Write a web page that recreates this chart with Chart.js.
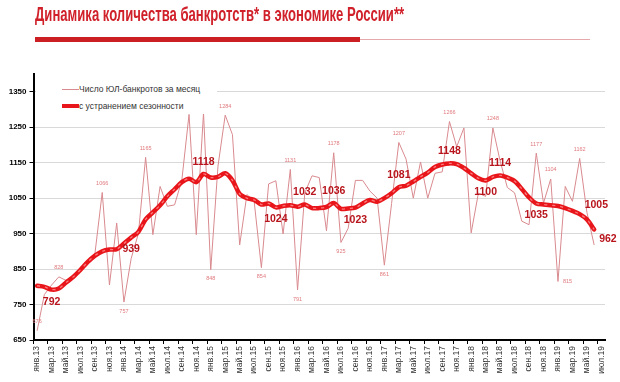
<!DOCTYPE html>
<html>
<head>
<meta charset="utf-8">
<script src="https://cdn.jsdelivr.net/npm/chart.js@4.4.1/dist/chart.umd.min.js"></script>
<style>
	html, body { margin: 0; padding: 0; background: #fff; }
	#wrap { position: relative; width: 620px; height: 382px; overflow: hidden; }
	#bankruptChart { position: absolute; left: 0; top: 0; }
	#title {
		position: absolute; left: 35px; top: 3px; white-space: nowrap;
		font: bold 20px 'Liberation Sans', Arial, sans-serif; color: #d0202a;
		transform: scaleX(0.655); transform-origin: left top;
	}
	#bar { position: absolute; left: 35px; top: 37px; width: 325px; height: 5px; background: #cc1f24; }
	#rule { position: absolute; left: 360px; top: 39px; width: 230px; height: 1px; background: #e6a9ab; }
	#legend {
		position: absolute; left: 36px; top: 78px; width: 181px; height: 36px; background: #fff;
		font: 8.5px 'Liberation Sans', Arial, sans-serif; color: #333;
	}
	.row { position: absolute; left: 26px; height: 12px; line-height: 12px; white-space: nowrap; }
	.row i { position: absolute; left: 0; width: 17px; }
	.row span { position: absolute; left: 17px; }
	#r1 { top: 5px; }
	#r1 i { top: 6px; height: 1px; background: #d98a8f; }
	#r2 { top: 22px; }
	#r2 i { top: 4px; height: 4px; background: #e8161b; }
</style>
</head>
<body>
<div id="wrap">
	<canvas id="bankruptChart" width="620" height="382"></canvas>
	<div id="title">Динамика количества банкротств* в экономике России**</div>
	<div id="bar"></div>
	<div id="rule"></div>
	<div id="legend">
		<div class="row" id="r1"><i></i><span>Число ЮЛ-банкротов за месяц</span></div>
		<div class="row" id="r2"><i></i><span>с устранением сезонности</span></div>
	</div>
</div>
<script>
const months = [
	'янв.13', 'фев.13', 'мар.13', 'апр.13', 'май.13', 'июн.13', 'июл.13', 'авг.13', 'сен.13', 'окт.13', 'ноя.13', 'дек.13',
	'янв.14', 'фев.14', 'мар.14', 'апр.14', 'май.14', 'июн.14', 'июл.14', 'авг.14', 'сен.14', 'окт.14', 'ноя.14', 'дек.14',
	'янв.15', 'фев.15', 'мар.15', 'апр.15', 'май.15', 'июн.15', 'июл.15', 'авг.15', 'сен.15', 'окт.15', 'ноя.15', 'дек.15',
	'янв.16', 'фев.16', 'мар.16', 'апр.16', 'май.16', 'июн.16', 'июл.16', 'авг.16', 'сен.16', 'окт.16', 'ноя.16', 'дек.16',
	'янв.17', 'фев.17', 'мар.17', 'апр.17', 'май.17', 'июн.17', 'июл.17', 'авг.17', 'сен.17', 'окт.17', 'ноя.17', 'дек.17',
	'янв.18', 'фев.18', 'мар.18', 'апр.18', 'май.18', 'июн.18', 'июл.18', 'авг.18', 'сен.18', 'окт.18', 'ноя.18', 'дек.18',
	'янв.19', 'фев.19', 'мар.19', 'апр.19', 'май.19', 'июн.19', 'июл.19',
];

// число ЮЛ-банкротов за месяц
const perMonth = [
	676, 778, 805, 828, 818, 830, 850, 875, 895, 1066, 805, 980,
	757, 880, 950, 1165, 947, 1083, 1027, 1031, 1100, 1286, 947, 1290,
	848, 1140, 1284, 1229, 918, 1060, 1041, 854, 1090, 1099, 949, 1131,
	791, 1065, 1113, 1108, 958, 1178, 925, 965, 1100, 1100, 1070, 1050,
	861, 1035, 1207, 1160, 1050, 1152, 1050, 1120, 1124, 1266, 1195, 1248,
	952, 1064, 1055, 1248, 1155, 1080, 1065, 985, 975, 1177, 1036, 1104,
	815, 1083, 1041, 1162, 1010, 918, null,
];

// с устранением сезонности
const seasonAdj = [
	803, 800, 792, 795, 812, 828, 848, 870, 888, 900, 905, 906,
	922, 939, 955, 990, 1010, 1030, 1055, 1075, 1095, 1105, 1095, 1118,
	1108, 1110, 1120, 1100, 1062, 1050, 1045, 1032, 1035, 1024, 1028, 1030,
	1026, 1032, 1022, 1022, 1025, 1036, 1020, 1021, 1023, 1035, 1045, 1040,
	1050, 1064, 1081, 1085, 1097, 1110, 1122, 1138, 1145, 1148, 1146, 1135,
	1120, 1106, 1100, 1110, 1114, 1108, 1098, 1076, 1052, 1035, 1032, 1030,
	1028, 1022, 1014, 1005, 990, 962, null,
];

const yTicks = [650, 750, 850, 950, 1050, 1150, 1250, 1350];

// which points carry a value label, and where it sits
const rawLabelAt = [0, 3, 9, 12, 15, 24, 26, 31, 35, 36, 41, 42, 48, 50, 57, 63, 69, 71, 72, 75];
const rawLabelPlace = ['a', 'a', 'a', 'b', 'a', 'b', 'a', 'b', 'a', 'b', 'a', 'b', 'b', 'a', 'a', 'a', 'a', 'a', 'r', 'a'];
const adjLabelAt = [2, 13, 23, 33, 37, 41, 44, 50, 57, 62, 64, 69, 75, 77];
const adjLabelPlace = ['b', 'b', 'a', 'b', 'a', 'a', 'b', 'a', 'a', 'b', 'a', 'b', 'ar', 'br'];

const valueLabels = {
	id: 'valueLabels',
	afterDatasetsDraw(chart) {
		const ctx = chart.ctx;
		function put(meta, values, at, place, font, color, off) {
			ctx.save();
			ctx.font = font;
			ctx.fillStyle = color;
			ctx.textBaseline = 'middle';
			at.forEach((idx, k) => {
				const pt = meta.data[idx];
				const txt = String(values[idx]);
				const p = place[k];
				let x = pt.x, y = pt.y;
				ctx.textAlign = 'center';
				if (p === 'a') y -= off;
				else if (p === 'b') y += off;
				else {
					ctx.textAlign = 'left';
					x += 5;
					if (p === 'ar') y -= 9;
					if (p === 'br') y += 10;
				}
				ctx.fillText(txt, x, y);
			});
			ctx.restore();
		}
		put(chart.getDatasetMeta(2), perMonth, rawLabelAt, rawLabelPlace,
			'5.5px "Liberation Sans", Arial, sans-serif', '#e0797d', 9);
		put(chart.getDatasetMeta(0), seasonAdj, adjLabelAt, adjLabelPlace,
			'bold 10.5px "Liberation Sans", Arial, sans-serif', '#b8141c', 12);
	},
};

new Chart(document.getElementById('bankruptChart'), {
	type: 'line',
	data: {
		labels: months,
		datasets: [
			{
				data: seasonAdj,
				borderColor: '#e8161b',
				borderWidth: 4.5,
				pointRadius: 0,
				tension: 0.3,
				borderCapStyle: 'round',
				order: 1,
			},
			{
				data: seasonAdj,
				borderColor: 'rgba(255,140,140,0.85)',
				borderWidth: 1.3,
				borderDash: [3, 5],
				pointRadius: 0,
				tension: 0.3,
				order: 0,
			},
			{
				data: perMonth,
				borderColor: '#d98a8f',
				borderWidth: 1,
				pointRadius: 0,
				tension: 0,
				order: 2,
			},
		],
	},
	options: {
		responsive: false,
		animation: false,
		events: [],
		layout: { autoPadding: false, padding: { left: 0, top: 74, right: 15, bottom: 0 } },
		plugins: { legend: { display: false }, tooltip: { enabled: false } },
		scales: {
			x: {
				offset: true,
				afterFit: (s) => { s.height = 42; },
				border: { color: '#000', width: 2 },
				grid: {
					offset: true,
					drawOnChartArea: false,
					tickLength: 4,
					color: (c) => (c.index % 2 === 0 ? '#000' : 'rgba(0,0,0,0)'),
				},
				ticks: {
					autoSkip: false,
					maxRotation: 90,
					minRotation: 90,
					padding: 2,
					color: '#333',
					font: { size: 8.5, family: '"Liberation Sans", Arial, sans-serif' },
					callback: (v, i) => (i % 2 === 0 ? months[i] : ''),
				},
			},
			y: {
				min: 650,
				max: 1400,
				afterFit: (s) => { s.width = 33.5; },
				afterBuildTicks: (s) => { s.ticks = yTicks.map((v) => ({ value: v })); },
				border: { color: '#000', width: 2 },
				grid: { color: '#d9d9d9', tickColor: '#000', tickLength: 4 },
				ticks: {
					padding: 3,
					color: '#000',
					font: { size: 8, weight: 'bold', family: '"Liberation Sans", Arial, sans-serif' },
					callback: (v) => String(v),
				},
			},
		},
	},
	plugins: [valueLabels],
});
</script>
</body>
</html>
